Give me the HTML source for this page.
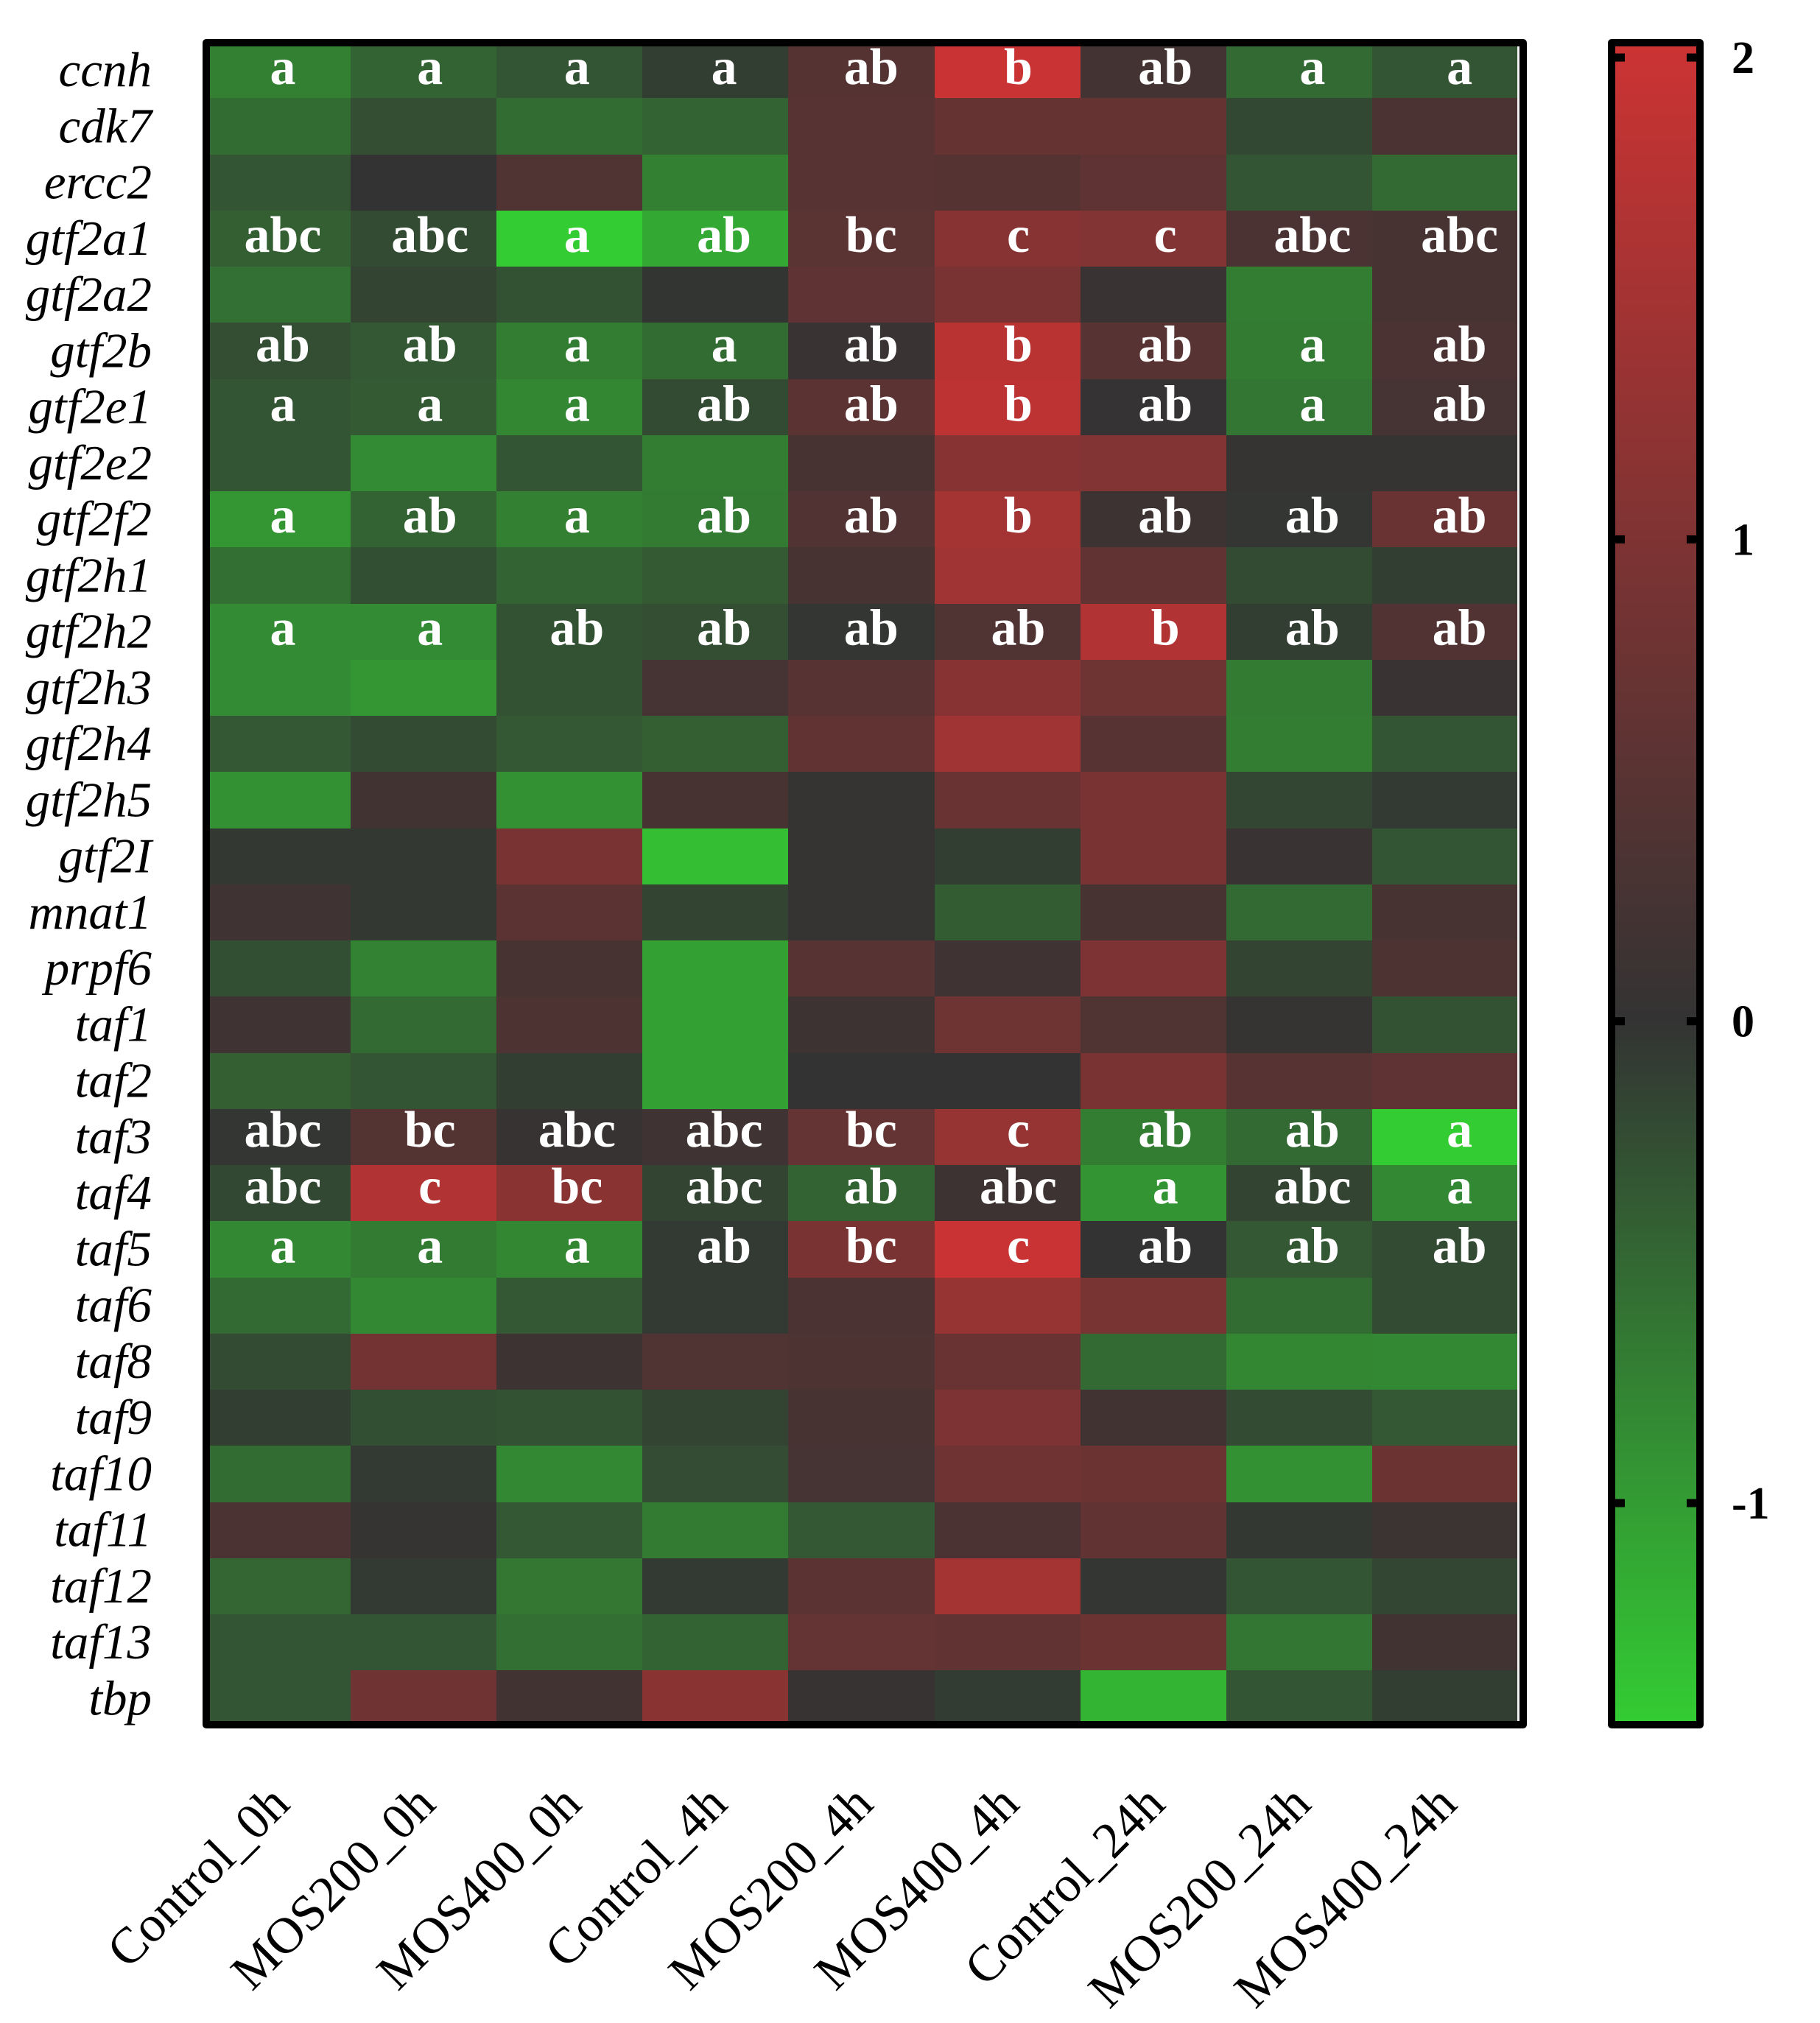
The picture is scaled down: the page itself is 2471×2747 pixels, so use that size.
<!DOCTYPE html>
<html lang="en">
<head>
<meta charset="utf-8">
<title>Heatmap of transcription factor gene expression</title>
<style>
html,body{margin:0;padding:0;background:#fff;}
svg{display:block;font-family:"Liberation Serif",serif;}
</style>
</head>
<body>
<svg id="chart" xmlns="http://www.w3.org/2000/svg" width="2471" height="2747" viewBox="0 0 2471 2747">
<rect x="0" y="0" width="2471" height="2747" fill="#ffffff"></rect>
<defs>
<clipPath id="plot-clip"><rect x="285" y="63" width="1775" height="2274"></rect></clipPath>
<linearGradient id="colorbar-gradient" x1="0" y1="0" x2="0" y2="1"></linearGradient>
</defs>
<g id="cells" clip-path="url(#plot-clip)" shape-rendering="crispEdges"></g>
<g id="sig"></g>
<rect x="2060" y="63" width="4" height="2274" fill="#f2f2f2"></rect>
<rect x="280" y="58" width="1788" height="2284" fill="none" stroke="#000" stroke-width="10" stroke-linejoin="round"></rect>
<g id="row-labels"></g>
<g id="col-labels"></g>
<rect id="cbar" x="2193" y="63" width="110" height="2274" fill="url(#colorbar-gradient)"></rect>
<rect x="2188" y="58" width="120" height="2284" fill="none" stroke="#000" stroke-width="10" stroke-linejoin="round"></rect>
<g id="cbar-ticks"></g>
</svg>
<script>
const genes = ["ccnh","cdk7","ercc2","gtf2a1","gtf2a2","gtf2b","gtf2e1","gtf2e2","gtf2f2","gtf2h1","gtf2h2","gtf2h3","gtf2h4","gtf2h5","gtf2I","mnat1","prpf6","taf1","taf2","taf3","taf4","taf5","taf6","taf8","taf9","taf10","taf11","taf12","taf13","tbp"];
const treatments = ["Control_0h","MOS200_0h","MOS400_0h","Control_4h","MOS200_4h","MOS400_4h","Control_24h","MOS200_24h","MOS400_24h"];
const colorbarTicks = [2,1,0,-1];
const colorMin = -1.452;
const colorMax = 2.023;
const expression = [
[-0.73,-0.46,-0.32,-0.10,0.45,2.00,0.22,-0.51,-0.32],
[-0.54,-0.26,-0.54,-0.46,0.49,0.67,0.67,-0.20,0.32],
[-0.32,0.00,0.38,-0.73,0.49,0.45,0.58,-0.32,-0.51],
[-0.42,-0.23,-1.45,-1.11,0.51,1.11,1.04,0.32,0.28],
[-0.58,-0.16,-0.29,-0.02,0.58,0.94,0.09,-0.70,0.28],
[-0.26,-0.35,-0.70,-0.54,0.09,1.77,0.49,-0.67,0.33],
[-0.32,-0.37,-0.80,-0.23,0.54,1.83,0.03,-0.64,0.25],
[-0.32,-0.84,-0.32,-0.70,0.28,1.11,1.04,0.04,0.04],
[-0.94,-0.46,-0.73,-0.67,0.41,1.50,0.15,-0.03,0.71],
[-0.56,-0.27,-0.46,-0.37,0.28,1.44,0.62,-0.23,-0.10],
[-0.84,-0.84,-0.29,-0.26,-0.03,0.38,1.68,-0.10,0.41],
[-0.84,-0.94,-0.29,0.25,0.49,1.11,0.78,-0.67,0.09],
[-0.35,-0.23,-0.35,-0.42,0.62,1.44,0.49,-0.70,-0.32],
[-0.89,0.20,-0.89,0.28,0.04,0.71,0.94,-0.18,-0.07],
[-0.05,-0.05,0.94,-1.32,0.04,-0.10,0.94,0.09,-0.32],
[0.17,-0.05,0.54,-0.16,0.04,-0.39,0.28,-0.51,0.28],
[-0.27,-0.75,0.28,-1.03,0.49,0.17,0.98,-0.16,0.36],
[0.17,-0.51,0.36,-1.03,0.15,0.78,0.38,0.04,-0.29],
[-0.42,-0.32,-0.10,-1.03,0.01,0.01,0.94,0.49,0.58],
[-0.03,0.43,0.07,0.17,0.65,1.31,-0.70,-0.51,-1.45],
[-0.20,1.68,1.15,-0.16,-0.46,0.15,-0.92,-0.16,-0.82],
[-0.82,-0.67,-0.80,-0.07,0.94,2.00,0.01,-0.35,-0.23],
[-0.51,-0.82,-0.35,-0.07,0.33,1.31,0.91,-0.54,-0.23],
[-0.23,0.84,0.15,0.38,0.36,0.71,-0.51,-0.80,-0.82],
[-0.10,-0.27,-0.29,-0.16,0.28,0.98,0.20,-0.23,-0.35],
[-0.54,-0.07,-0.82,-0.24,0.25,0.80,0.75,-0.89,0.75],
[0.33,0.04,-0.35,-0.67,-0.35,0.33,0.62,-0.05,0.12],
[-0.48,-0.07,-0.65,-0.07,0.54,1.50,-0.03,-0.32,-0.18],
[-0.32,-0.32,-0.56,-0.46,0.65,0.62,0.75,-0.64,0.20],
[-0.32,0.80,0.20,1.15,0.07,-0.09,-1.22,-0.32,-0.10]
];
const significance = {
  ccnh:["a","a","a","a","ab","b","ab","a","a"],
  gtf2a1:["abc","abc","a","ab","bc","c","c","abc","abc"],
  gtf2b:["ab","ab","a","a","ab","b","ab","a","ab"],
  gtf2e1:["a","a","a","ab","ab","b","ab","a","ab"],
  gtf2f2:["a","ab","a","ab","ab","b","ab","ab","ab"],
  gtf2h2:["a","a","ab","ab","ab","ab","b","ab","ab"],
  taf3:["abc","bc","abc","abc","bc","c","ab","ab","a"],
  taf4:["abc","c","bc","abc","ab","abc","a","abc","a"],
  taf5:["a","a","a","ab","bc","c","ab","ab","ab"]
};

const NS = "http://www.w3.org/2000/svg";
const xEdge = i => 278 + 198.1 * i;
const yEdge = r => 57 + 76.25 * r;
const yCenter = r => yEdge(r) + 38.125;
const sigX = i => 384 + 199.7 * i;
const colorbarY = v => 1386.7 - 654.3 * v;
/* layout only: baseline nudge of the letters in a few rows */
const letterNudge = {ccnh:3, gtf2a1:2, gtf2b:-2, gtf2e1:3, gtf2f2:2, gtf2h2:2, taf3:-3, taf4:-2, taf5:2};

function colorFor(v) {
  const base = 51, span = 153;
  if (v >= 0) {
    return "rgb(" + Math.round(base + span * Math.min(v / colorMax, 1)) + ",51,51)";
  }
  return "rgb(51," + Math.round(base + span * Math.min(v / colorMin, 1)) + ",51)";
}
function make(tag, attrs, text) {
  const el = document.createElementNS(NS, tag);
  for (const k in attrs) el.setAttribute(k, attrs[k]);
  if (text !== undefined) el.textContent = text;
  return el;
}

const cellsG = document.getElementById("cells");
const sigG = document.getElementById("sig");
const rowG = document.getElementById("row-labels");
const colG = document.getElementById("col-labels");
const tickG = document.getElementById("cbar-ticks");
const gradient = document.getElementById("colorbar-gradient");

expression.forEach((rowVals, r) => {
  const gene = genes[r];
  const label = make("text", {x: 206, y: yCenter(r) + 22, "text-anchor": "end", "font-size": 67, "font-style": "italic", fill: "#000"}, gene);
  
  
  rowG.appendChild(label);
  rowVals.forEach((v, c) => {
    const x0 = Math.round(xEdge(c)), x1 = Math.round(xEdge(c + 1));
    const y0 = Math.round(yEdge(r)), y1 = Math.round(yEdge(r + 1));
    const cell = make("rect", {x: x0, y: y0, width: x1 - x0, height: y1 - y0, fill: colorFor(v)});
    
    
    cellsG.appendChild(cell);
    if (significance[gene]) {
      const letter = make("text", {x: sigX(c), y: yCenter(r) + 16 + letterNudge[gene], "text-anchor": "middle", "font-size": 70, "font-weight": "bold", fill: "#fff"}, significance[gene][c]);
      
      
      sigG.appendChild(letter);
    }
  });
});

treatments.forEach((name, c) => {
  const ax = xEdge(c) + 118, ay = 2453;
  const label = make("text", {x: ax, y: ay, "text-anchor": "end", "font-size": 69, fill: "#000", transform: "rotate(-45 " + ax + " " + ay + ")"}, name);
  
  
  colG.appendChild(label);
});

[[0, colorMax], [colorMax / (colorMax - colorMin), 0], [1, colorMin]].forEach(([offset, v]) => {
  gradient.appendChild(make("stop", {offset: offset, "stop-color": colorFor(v)}));
});

colorbarTicks.forEach(t => {
  const y = colorbarY(t);
  const left = make("rect", {x: 2193, y: y - 5.5, width: 13, height: 11, fill: "#000"});
  
  
  tickG.appendChild(left);
  const right = make("rect", {x: 2290, y: y - 5.5, width: 13, height: 11, fill: "#000"});
  
  
  tickG.appendChild(right);
  const label = make("text", {x: 2351, y: y + 21, "font-size": 62, "font-weight": "bold", fill: "#000"}, String(t));
  
  
  tickG.appendChild(label);
});
</script>
</body>
</html>
